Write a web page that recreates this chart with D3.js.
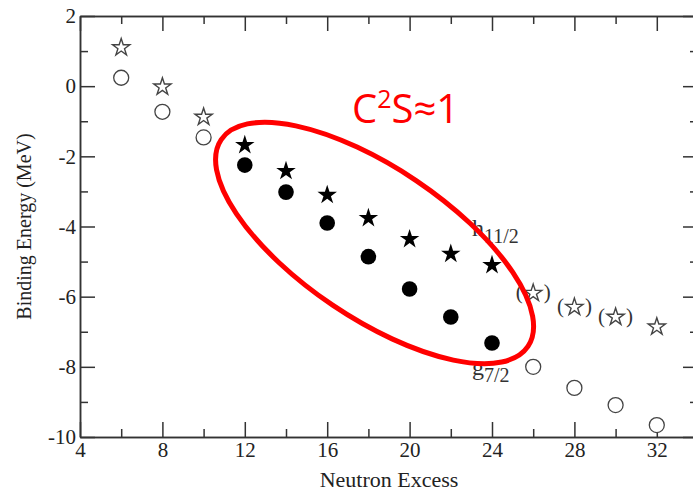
<!DOCTYPE html>
<html>
<head>
<meta charset="utf-8">
<script src="https://cdn.jsdelivr.net/npm/d3@7"></script>
<style>
  body { margin: 0; background: #fff; }
  svg { display: block; }
  .axis text { font-family: "Liberation Serif", "Times New Roman", serif; font-size: 21px; fill: #222; }
  .axis path, .axis line { stroke: #333; stroke-width: 1.5; }
</style>
</head>
<body>
<div id="graph"></div>
<script>
const width = 693;
const height = 493;

// neutron excess for each group of points
const excessLow = [6, 8, 10];
const excessMid = [12, 14, 16, 18, 20, 22, 24];
const excessHigh = [26, 28, 30, 32];

// h11/2 (stars) and g7/2 (circles) binding energies, MeV
const openStarLow = [1.10, -0.02, -0.88];
const openCircleLow = [0.24, -0.73, -1.46];
const filledStarMid = [-1.68, -2.42, -3.10, -3.76, -4.36, -4.78, -5.10];
const filledCircleMid = [-2.25, -3.02, -3.90, -4.86, -5.78, -6.58, -7.32];
const openStarHigh = [-5.90, -6.30, -6.58, -6.86];
const openCircleHigh = [-8.00, -8.60, -9.09, -9.66];
const bracketedHigh = [true, true, true, false];

const xMajor = [4, 8, 12, 16, 20, 24, 28, 32];
const xMinor = [6, 10, 14, 18, 22, 26, 30];
const yMajor = [2, 0, -2, -4, -6, -8, -10];
const yMinor = [1, -1, -3, -5, -7, -9];

const margin = {left: 80, top: 16, right: 698, bottom: 437};

let svg = d3.select("#graph")
    .append("svg")
    .attr("width", width)
    .attr("height", height);

let x = d3.scaleLinear().domain([4, 34]).range([margin.left, margin.right]);
let y = d3.scaleLinear().domain([-10, 2]).range([margin.bottom, margin.top]);

// axes on all four sides, ticks pointing inward
function fmt(d) { return d < 0 ? "-" + Math.abs(d) : String(d); }

svg.append("g").attr("class", "axis")
    .attr("transform", `translate(0, ${margin.bottom})`)
    .call(d3.axisBottom(x).tickValues(xMajor).tickSize(-15).tickSizeOuter(0).tickPadding(5).tickFormat(fmt));
svg.append("g").attr("class", "axis")
    .attr("transform", `translate(0, ${margin.bottom})`)
    .call(d3.axisBottom(x).tickValues(xMinor).tickSize(-8).tickSizeOuter(0).tickFormat(""));
svg.append("g").attr("class", "axis")
    .attr("transform", `translate(0, ${margin.top})`)
    .call(d3.axisTop(x).tickValues(xMajor).tickSize(-15).tickSizeOuter(0).tickFormat(""));
svg.append("g").attr("class", "axis")
    .attr("transform", `translate(0, ${margin.top})`)
    .call(d3.axisTop(x).tickValues(xMinor).tickSize(-8).tickSizeOuter(0).tickFormat(""));

svg.append("g").attr("class", "axis")
    .attr("transform", `translate(${margin.left}, 0)`)
    .call(d3.axisLeft(y).tickValues(yMajor).tickSize(-15).tickSizeOuter(0).tickPadding(4).tickFormat(fmt));
svg.append("g").attr("class", "axis")
    .attr("transform", `translate(${margin.left}, 0)`)
    .call(d3.axisLeft(y).tickValues(yMinor).tickSize(-8).tickSizeOuter(0).tickFormat(""));
svg.append("g").attr("class", "axis")
    .attr("transform", `translate(${margin.right}, 0)`)
    .call(d3.axisRight(y).tickValues(yMajor).tickSize(-15).tickSizeOuter(0).tickFormat(""));
svg.append("g").attr("class", "axis")
    .attr("transform", `translate(${margin.right}, 0)`)
    .call(d3.axisRight(y).tickValues(yMinor).tickSize(-8).tickSizeOuter(0).tickFormat(""));

svg.selectAll(".axis text").attr("fill", "#222");

// axis titles
svg.append("text")
    .attr("x", (margin.left + margin.right) / 2)
    .attr("y", 487)
    .style("text-anchor", "middle")
    .style("font-family", "Liberation Serif, serif")
    .style("font-size", "22px")
    .style("fill", "#222")
    .text("Neutron Excess");

svg.append("text")
    .attr("transform", `translate(31, ${(margin.top + margin.bottom) / 2}) rotate(-90)`)
    .style("text-anchor", "middle")
    .style("font-family", "Liberation Serif, serif")
    .style("font-size", "20px")
    .style("fill", "#222")
    .text("Binding Energy (MeV)");

// points
let star = d3.symbol().type(d3.symbolStar);
let marks = svg.append("g");

function pts(xs, ys) { return xs.map((d, i) => ({x: d, y: ys[i], i: i})); }

function openStars(data) {
    marks.selectAll(null).data(data).enter()
        .append("path")
        .attr("d", star.size(92)())
        .attr("transform", d => `translate(${x(d.x)}, ${y(d.y)})`)
        .attr("fill", "#fff")
        .attr("stroke", "#444")
        .attr("stroke-width", 1.4);
}
function openCircles(data) {
    marks.selectAll(null).data(data).enter()
        .append("circle")
        .attr("cx", d => x(d.x))
        .attr("cy", d => y(d.y))
        .attr("r", 7.5)
        .attr("fill", "#fff")
        .attr("stroke", "#444")
        .attr("stroke-width", 1.3);
}

openStars(pts(excessLow, openStarLow));
openCircles(pts(excessLow, openCircleLow));
openStars(pts(excessHigh, openStarHigh));
openCircles(pts(excessHigh, openCircleHigh));

marks.selectAll(null).data(pts(excessMid, filledStarMid)).enter()
    .append("path")
    .attr("d", star.size(118)())
    .attr("transform", d => `translate(${x(d.x)}, ${y(d.y)})`)
    .attr("fill", "#000");

marks.selectAll(null).data(pts(excessMid, filledCircleMid)).enter()
    .append("circle")
    .attr("cx", d => x(d.x))
    .attr("cy", d => y(d.y))
    .attr("r", 7.8)
    .attr("fill", "#000");

// brackets around tentative points
let br = pts(excessHigh, openStarHigh).filter(d => bracketedHigh[d.i]);
["(", ")"].forEach(function(ch, k) {
    marks.selectAll(null).data(br).enter()
        .append("text")
        .attr("x", d => x(d.x) + (k === 0 ? -14 : 14))
        .attr("y", d => y(d.y) + 6)
        .style("text-anchor", "middle")
        .style("font-family", "Liberation Serif, serif")
        .style("font-size", "21px")
        .style("fill", "#333")
        .text(ch);
});

// orbital labels
function orbital(px, py, main, sub) {
    let t = svg.append("text")
        .attr("x", px).attr("y", py)
        .style("font-family", "Liberation Serif, serif")
        .style("fill", "#333");
    t.append("tspan").style("font-size", "24px").text(main);
    t.append("tspan").attr("dy", 7).style("font-size", "20px").text(sub);
}
orbital(x(24) - 20, y(-5.10) - 29, "h", "11/2");
orbital(x(24) - 20, y(-7.32) + 32, "g", "7/2");

// red ellipse and annotation
svg.append("ellipse")
    .attr("transform", `translate(${x(18.3)}, ${y(-4.47)}) rotate(34)`)
    .attr("rx", 185)
    .attr("ry", 75)
    .attr("fill", "none")
    .attr("stroke", "#f00")
    .attr("stroke-width", 5);

let note = svg.append("text")
    .attr("x", 352)
    .attr("y", 123)
    .style("font-family", "Open Sans, sans-serif")
    .style("font-size", "40px")
    .style("fill", "#f00");
note.append("tspan").text("C");
note.append("tspan").attr("dy", -15).style("font-size", "25px").text("2");
note.append("tspan").attr("dy", 15).text("S≈1");
</script>
</body>
</html>
